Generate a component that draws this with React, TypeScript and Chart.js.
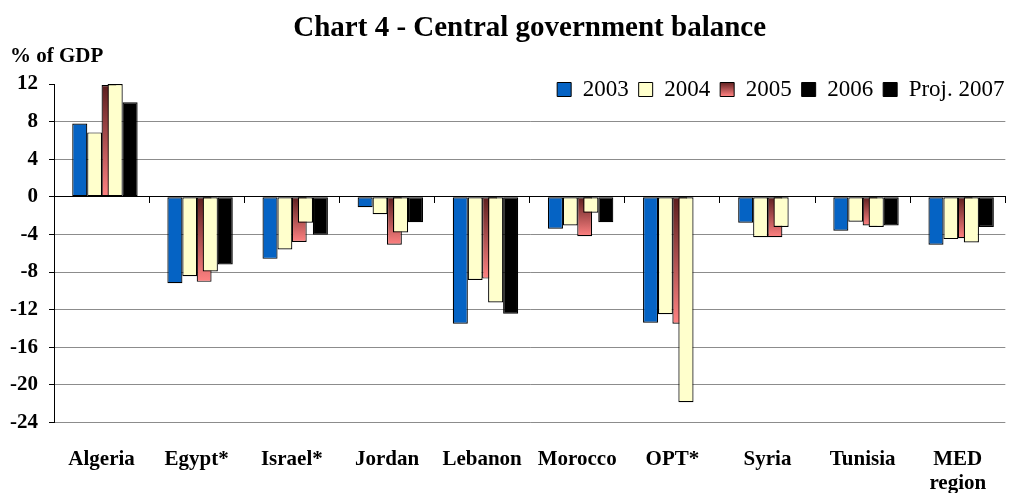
import React, { useEffect, useRef } from 'react';
import { Chart, registerables } from 'chart.js';

Chart.register(...registerables);

// ---------- data ----------
const categories: (string | string[])[] = [
  'Algeria', 'Egypt*', 'Israel*', 'Jordan', 'Lebanon', 'Morocco', 'OPT*', 'Syria', 'Tunisia', ['MED', 'region'],
];
const s2003 = [7.8, -9.2, -6.6, -1.1, -13.5, -3.4, -13.4, -2.75, -3.6, -5.1];
const s2004 = [6.85, -8.45, -5.6, -1.85, -8.85, -3.05, -12.5, -4.3, -2.65, -4.5];
const s2005 = [11.9, -9.05, -4.8, -5.1, -8.7, -4.2, -13.5, -4.3, -3.05, -4.4];
const s2006 = [12.0, -7.95, -2.75, -3.8, -11.25, -1.7, -21.85, -3.2, -3.2, -4.85];
const proj2007 = [10.05, -7.2, -4.05, -2.7, -12.45, -2.7, null, null, -3.05, -3.2];
const spacer = [null, null, null, null, null, null, null, null, null, null];

const legendLabels = ['2003', '2004', '2005', '2006', 'Proj. 2007'];
const yMin = -24;
const yMax = 12;
const yStep = 4;

const titleText = 'Chart 4 - Central government balance';
const unitText = '% of GDP';

// ---------- style ----------
const FONT = "'Liberation Serif', 'Times New Roman', Times, serif";
const BLUE = '#0563C4';
const YELLOW = '#FFFFCC';
const RED_TOP = '#5C1E1E';
const RED_BOTTOM = '#FF8282';
const BLACK = '#000000';
const GRID = '#8C8C8C';

Chart.defaults.font.family = FONT;
Chart.defaults.color = '#000';

const CAT_W = 96; // category width in px
const N_SLOTS = 6; // datasets sharing the category axis

// per-dataset bar placement: centre offset (px from category centre) and width (px)
function slot(index: number, offset: number, width: number) {
  const f = (index + 0.5) / N_SLOTS - 0.5;
  const span = Math.abs(offset / f);
  return { categoryPercentage: span / CAT_W, barPercentage: width / (span / N_SLOTS) };
}

const LEGEND_TOP = 68;

const legendFloat = {
  id: 'legendFloat',
  beforeInit(chart: any) {
    const lg = chart.legend;
    if (!lg || lg._floatPatched) return;
    const fit = lg.fit;
    lg.fit = function () {
      fit.call(this);
      this._natH = this.height;
      this.height = 0;
    };
    lg._floatPatched = true;
  },
  afterLayout(chart: any) {
    const lg = chart.legend;
    if (!lg) return;
    const h = lg._natH || 40;
    lg.top = LEGEND_TOP;
    lg.height = h;
    lg.bottom = LEGEND_TOP + h;
  },
};

function redGradient(ctx: any) {
  const chart = ctx.chart;
  const v = ctx.raw;
  if (!chart.chartArea || v === null || v === undefined || !chart.scales.y) return '#C05050';
  const ys = chart.scales.y;
  const a = ys.getPixelForValue(0);
  const b = ys.getPixelForValue(v);
  const top = Math.min(a, b);
  const bottom = Math.max(a, b);
  if (bottom - top < 1) return '#C05050';
  const g = chart.ctx.createLinearGradient(0, top, 0, bottom);
  g.addColorStop(0, RED_TOP);
  g.addColorStop(1, RED_BOTTOM);
  return g;
}

export default function App() {
  const ref = useRef<HTMLCanvasElement | null>(null);

  useEffect(() => {
    if (!ref.current) return;
    const common = { borderColor: '#000', borderWidth: 1.2, borderSkipped: false };
    const chart = new Chart(ref.current, {
      type: 'bar',
      data: {
        labels: categories,
        datasets: [
          { label: 'spacer', data: spacer, backgroundColor: 'rgba(0,0,0,0)', borderWidth: 0, ...slot(0, -30, 10) },
          { label: '2003', data: s2003, backgroundColor: BLUE, ...common, ...slot(1, -22, 15.2) },
          { label: '2004', data: s2004, backgroundColor: YELLOW, ...common, ...slot(2, -7, 15) },
          { label: '2006', data: s2006, backgroundColor: YELLOW, ...common, ...slot(3, 13.7, 15.3) },
          { label: '2005', data: s2005, backgroundColor: redGradient, ...common, ...slot(4, 7.5, 15) },
          { label: 'Proj. 2007', data: proj2007, backgroundColor: BLACK, ...common, ...slot(5, 28.8, 15.2) },
        ] as any,
      },
      options: {
        responsive: false,
        animation: false,
        events: [],
        layout: { padding: { left: 10, right: -2.5, top: 0, bottom: 0 } },
        plugins: {
          title: {
            display: true,
            text: titleText,
            fullSize: false,
            color: '#000',
            font: { family: FONT, size: 29, weight: 'bold', lineHeight: 1 },
            padding: { top: 14, bottom: 0 },
          },
          subtitle: {
            display: true,
            text: unitText,
            align: 'start',
            color: '#000',
            font: { family: FONT, size: 21, weight: 'bold', lineHeight: 1 },
            padding: { top: 3, bottom: 17 },
          },
          legend: {
            display: true,
            position: 'top',
            align: 'end',
            labels: {
              boxWidth: 14,
              boxHeight: 14,
              padding: 10,
              color: '#000',
              font: { family: FONT, size: 23, weight: 'normal' },
              generateLabels: (ch: any) => {
                const g = ch.ctx.createLinearGradient(0, 82, 0, 96);
                g.addColorStop(0, RED_TOP);
                g.addColorStop(1, RED_BOTTOM);
                const fills = [BLUE, YELLOW, g, BLACK, BLACK];
                return legendLabels.map((text, i) => ({
                  text,
                  fillStyle: fills[i],
                  strokeStyle: '#000',
                  lineWidth: 1,
                  hidden: false,
                  fontColor: '#000',
                  datasetIndex: i + 1,
                }));
              },
            },
          },
          tooltip: { enabled: false },
        },
        scales: {
          x: {
            type: 'category',
            offset: true,
            grid: { display: false, drawTicks: false, offset: true },
            border: { display: false },
            ticks: {
              color: '#000',
              font: { family: FONT, size: 21, weight: 'bold', lineHeight: 1.12 },
              padding: 25.5,
              maxRotation: 0,
              autoSkip: false,
            },
            afterFit: (s: any) => { s.height = 70.6; },
          },
          x2: {
            type: 'category',
            labels: categories,
            position: { y: 0 },
            offset: true,
            grid: { display: true, offset: true, drawOnChartArea: false, drawTicks: true, tickLength: 6, color: '#000', tickColor: '#000' },
            border: { display: true, color: '#000', width: 1 },
            ticks: { display: false },
            afterFit: (s: any) => { s.height = 0; },
          },
          y: {
            type: 'linear',
            min: yMin,
            max: yMax,
            border: { display: true, color: '#000', width: 1 },
            grid: {
              color: (c: any) => {
                const v = c.tick ? c.tick.value : null;
                return v === 0 || v === yMax ? 'rgba(0,0,0,0)' : GRID;
              },
              tickColor: '#000',
              tickLength: 5,
              lineWidth: 1,
            },
            ticks: {
              stepSize: yStep,
              autoSkip: false,
              color: '#000',
              padding: 11,
              font: { family: FONT, size: 21, weight: 'bold' },
            },
            afterFit: (s: any) => { s.width = 44; },
          },
        },
      } as any,
      plugins: [legendFloat],
    });
    return () => chart.destroy();
  }, []);

  return (
    <div style={{ position: 'fixed', left: 0, top: 0, width: 1012, height: 493, background: '#fff' }}>
      <canvas ref={ref} width={1012} height={493} style={{ display: 'block' }} />
    </div>
  );
}
